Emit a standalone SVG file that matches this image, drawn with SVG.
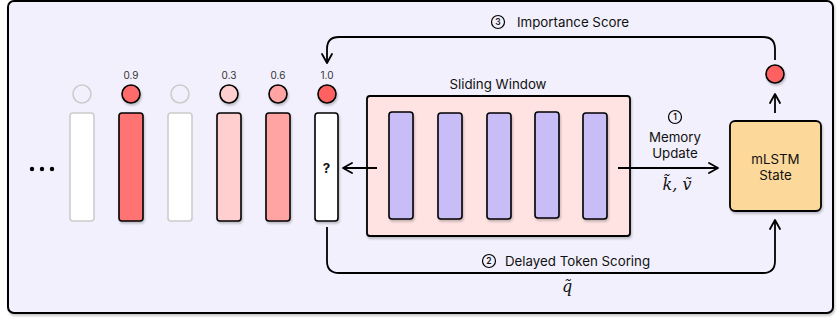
<svg xmlns="http://www.w3.org/2000/svg" width="840" height="320" viewBox="0 0 840 320">
<defs>
<filter id="sh" x="-20%" y="-20%" width="140%" height="140%"><feDropShadow dx="1" dy="2" stdDeviation="1" flood-color="#000" flood-opacity="0.22"/></filter>
<marker id="ah" viewBox="0 0 12 12" refX="11" refY="6" markerWidth="12" markerHeight="12" markerUnits="userSpaceOnUse" orient="auto"><path d="M2,1 L11,6 L2,11" fill="none" stroke="#000" stroke-width="1.8" stroke-linecap="round" stroke-linejoin="round"/></marker>
<style>
.t{font-family:Inter,"Noto Sans",sans-serif;fill:#111;font-size:13.3px}
.num{font-family:Inter,"Noto Sans",sans-serif;font-size:8.5px;font-weight:600;fill:#111;text-anchor:middle}
.sc{font-family:Inter,"Noto Sans",sans-serif;font-size:10px;fill:#333;text-anchor:middle}
.bar{stroke:#000;stroke-width:1.6;filter:url(#sh)}
.gbar{fill:#fff;stroke:#ccc;stroke-width:1.6}
.dot{stroke:#000;stroke-width:1.6;filter:url(#sh)}
.gdot{fill:none;stroke:#ccc;stroke-width:1.6}
.wb{fill:#C9BDF8;stroke:#000;stroke-width:1.6;filter:url(#sh)}
.ln{fill:none;stroke:#000;stroke-width:1.8}
.cn{fill:none;stroke:#000;stroke-width:1.2}
.m{font-family:"DejaVu Serif","Liberation Serif",serif;font-style:italic;font-size:16px;fill:#111;text-anchor:middle}
</style>
</defs>
<rect x="8" y="1" width="825" height="312" rx="6" fill="#F2F0FC" stroke="#000" stroke-width="2" filter="url(#sh)"/>

<g id="ellipsis"><circle cx="32" cy="169" r="2.2" fill="#000"/><circle cx="42" cy="169" r="2.2" fill="#000"/><circle cx="52" cy="169" r="2.2" fill="#000"/></g>

<g id="token1"><circle class="gdot" cx="82" cy="94" r="9"/><rect class="gbar" x="70" y="113" width="24" height="108" rx="3"/></g>
<g id="token2"><text class="sc" x="131" y="79">0.9</text><circle class="dot" cx="131" cy="94" r="9" fill="#FF6B6B"/><rect class="bar" x="119" y="113" width="24" height="108" rx="3" fill="#FF7373"/></g>
<g id="token3"><circle class="gdot" cx="180" cy="94" r="9"/><rect class="gbar" x="168" y="113" width="24" height="108" rx="3"/></g>
<g id="token4"><text class="sc" x="229" y="79">0.3</text><circle class="dot" cx="229" cy="94" r="9" fill="#FFCFCF"/><rect class="bar" x="217" y="113" width="24" height="108" rx="3" fill="#FFCFCF"/></g>
<g id="token5"><text class="sc" x="278" y="79">0.6</text><circle class="dot" cx="278" cy="94" r="9" fill="#FFA3A3"/><rect class="bar" x="266" y="113" width="24" height="108" rx="3" fill="#FFA3A3"/></g>
<g id="token6"><text class="sc" x="327" y="79">1.0</text><circle class="dot" cx="327" cy="94" r="9" fill="#FF6060"/><rect class="bar" x="315" y="113" width="23" height="108" rx="3" fill="#fff"/><text class="t" x="326.5" y="173" font-size="13" font-weight="700" text-anchor="middle">?</text></g>

<g id="sliding-window">
<text class="t" x="498" y="89" text-anchor="middle">Sliding Window</text>
<rect x="367" y="96" width="263" height="140" rx="3" fill="#FFE3E3" stroke="#000" stroke-width="1.8" filter="url(#sh)"/>
<rect class="wb" x="389" y="112" width="24" height="107" rx="3"/>
<rect class="wb" x="438" y="113" width="24" height="106" rx="3"/>
<rect class="wb" x="487" y="113" width="24" height="106" rx="3"/>
<rect class="wb" x="535" y="112" width="24" height="106" rx="3"/>
<rect class="wb" x="583" y="113" width="24" height="106" rx="3"/>
</g>

<g id="mlstm">
<rect x="730" y="121" width="91" height="90" rx="5" fill="#FCD89B" stroke="#000" stroke-width="1.8" filter="url(#sh)"/>
<text class="t" x="775.5" y="164" text-anchor="middle">mLSTM</text>
<text class="t" x="775.5" y="180" text-anchor="middle">State</text>
</g>

<g id="score-dot"><circle class="dot" cx="775" cy="74" r="9" fill="#FF6060"/></g>

<g id="connectors">
<line class="ln" x1="377" y1="168" x2="343" y2="168" marker-end="url(#ah)"/>
<line class="ln" x1="618" y1="168" x2="718" y2="168" marker-end="url(#ah)"/>
<line class="ln" x1="775" y1="113" x2="775" y2="94" marker-end="url(#ah)"/>
<path class="ln" d="M775,60 V49 Q775,37 763,37 H339 Q327,37 327,49 V63" marker-end="url(#ah)"/>
<path class="ln" d="M327,227 V261 Q327,273 339,273 H763 Q775,273 775,261 V220" marker-end="url(#ah)"/>
</g>

<g id="labels">
<circle class="cn" cx="498" cy="22" r="6.5"/><text class="num" x="498" y="25">3</text>
<text class="t" x="517" y="27">Importance Score</text>
<circle class="cn" cx="675" cy="117" r="6.5"/><text class="num" x="675" y="120">1</text>
<text class="t" x="675" y="142" text-anchor="middle">Memory</text>
<text class="t" x="675" y="158" text-anchor="middle">Update</text>
<text class="m" x="677" y="190">k̃, ṽ</text>
<circle class="cn" cx="489" cy="261" r="6.5"/><text class="num" x="489" y="264">2</text>
<text class="t" x="505" y="266">Delayed Token Scoring</text>
<text class="m" x="567" y="292">q̃</text>
</g>
</svg>
